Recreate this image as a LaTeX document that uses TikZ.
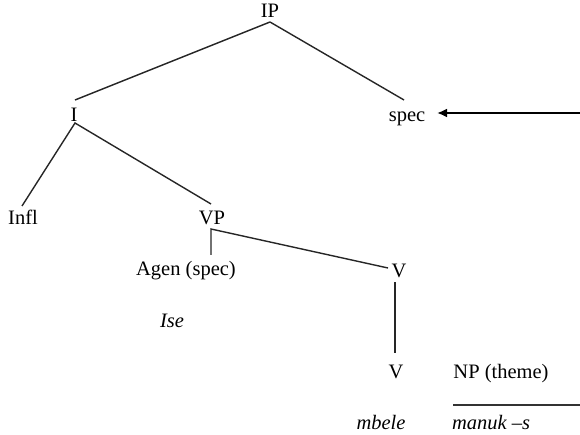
\documentclass[tikz,border=0pt]{standalone}
\usepackage{fontspec}
\setmainfont{Liberation Serif}
\usetikzlibrary{arrows.meta}
\begin{document}
\begin{tikzpicture}[x=1pt,y=-1pt,
  lbl/.style={anchor=base,inner sep=0pt,font=\fontsize{20.5}{24}\selectfont},
  word/.style={lbl,font=\fontsize{20.5}{24}\selectfont\itshape},
  branch/.style={line width=1.4pt,draw=black!85},
  pointer/.style={line width=2pt,-{Latex[length=10pt,width=9pt]}}]
\useasboundingbox (0,0) rectangle (580,435);

% labels
\node[lbl] (ip) at (270,18) {IP};
\node[lbl] (i) at (74,122) {I};
\node[lbl] (spec) at (407,122) {spec};
\node[lbl] (infl) at (23,225) {Infl};
\node[lbl] (vp) at (212,225) {VP};
\node[lbl] (agen) at (186,276) {Agen (spec)};
\node[word] (ise) at (172,327) {Ise};
\node[lbl] (vbar) at (399,277) {V};
\node[lbl] (v) at (396,378) {V};
\node[lbl] (np) at (501,378) {NP (theme)};
\node[word] (mbele) at (381,429) {mbele};
\node[word] (manuk) at (491,429) {manuk –s};

% attachment points of the branches
\coordinate (ip-b) at (270,22);
\coordinate (i-t) at (75,100);
\coordinate (i-b) at (75,123);
\coordinate (spec-t) at (404,100);
\coordinate (infl-t) at (22,206);
\coordinate (vp-t) at (211,204);
\coordinate (vp-b) at (211,229);
\coordinate (agen-t) at (211,255);
\coordinate (vbar-l) at (388,268);
\coordinate (vbar-b) at (395,282);
\coordinate (v-t) at (395,353);
\coordinate (np-ol) at (453,405);
\coordinate (np-or) at (580,405);
\coordinate (src) at (580,113);
\coordinate (tip) at (437,113);

% tree branches
\draw[branch] (ip-b) -- (i-t);
\draw[branch] (ip-b) -- (spec-t);
\draw[branch] (infl-t) -- (i-b) -- (vp-t);
\draw[branch] (agen-t) -- (vp-b) -- (vbar-l);
\draw[branch] (vbar-b) -- (v-t);
\draw[line width=2pt,draw=black!80] (np-ol) -- (np-or);

% pointer to spec
\draw[pointer] (src) -- (tip);
\end{tikzpicture}
\end{document}
